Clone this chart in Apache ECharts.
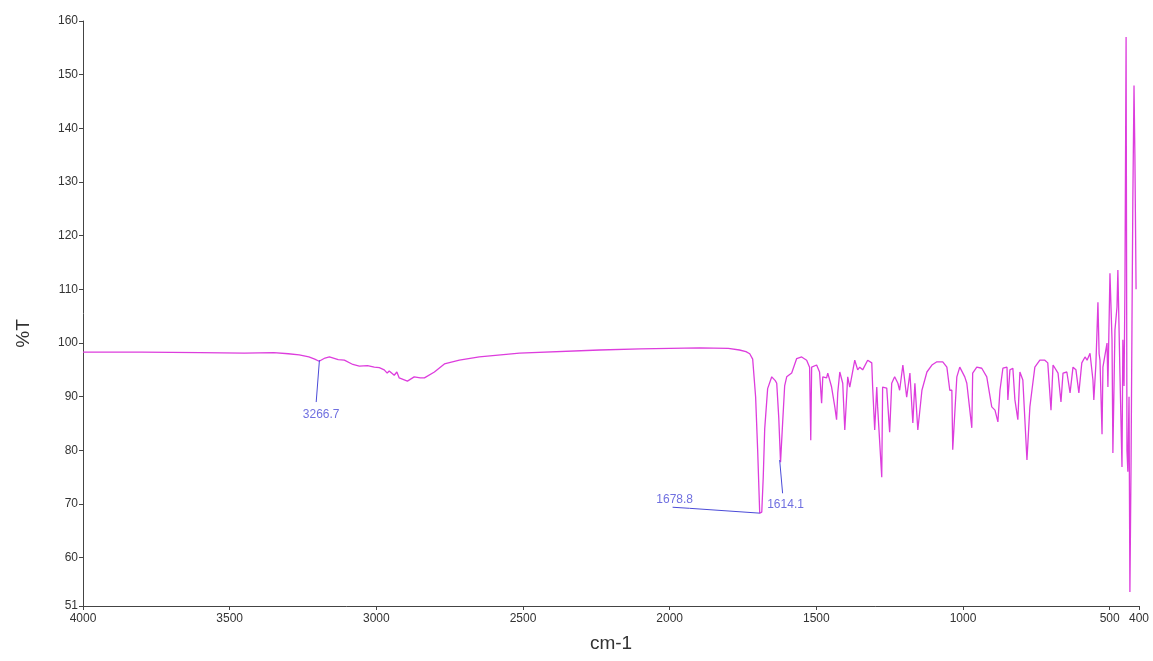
<!DOCTYPE html>
<html>
<head>
<meta charset="utf-8">
<script src="https://cdn.jsdelivr.net/npm/echarts@6/dist/echarts.min.js"></script>
<style>
html,body{margin:0;padding:0;background:#fff;}
#chart{width:1153px;height:661px;}
</style>
</head>
<body>
<div id="chart"></div>
<script>
// wavenumber (cm-1) and %T
const wavenumbers = [4000,3800,3600,3450,3350,3300,3263,3230,3210,3195,3175,3160,3130,3109,3080,3058,3030,3007,2990,2973,2963,2956,2939,2930,2922,2894,2871,2850,2836,2802,2768,2717,2649,2512,2239,2100,1898,1800,1762,1740,1727,1717,1707,1700,1693,1686,1681,1676,1666,1652,1640,1635,1628,1622,1615,1608,1601,1584,1567,1550,1533,1523,1519,1516,1499,1489,1482,1478,1465,1461,1448,1437,1431,1427,1420,1410,1403,1393,1386,1369,1359,1352,1342,1325,1311,1308,1301,1294,1291,1277,1274,1260,1250,1243,1233,1222,1216,1205,1192,1181,1171,1164,1154,1140,1123,1106,1089,1069,1055,1045,1038,1035,1021,1011,994,987,970,967,953,936,919,902,891,881,874,864,850,847,840,830,823,813,806,796,782,772,765,755,738,721,711,700,693,676,666,659,646,635,625,615,605,595,584,577,567,557,554,547,543,540,536,533,526,523,509,506,499,492,489,482,475,472,465,458,455,451,448,444,441,438,434,431,427,424,421,417,414,410];
const transmittance = [98.3,98.3,98.2,98.1,98.2,98.0,97.8,97.4,97.0,96.6,97.2,97.4,96.9,96.8,96.0,95.7,95.8,95.5,95.4,95.0,94.4,94.8,94.0,94.6,93.5,92.9,93.7,93.5,93.5,94.6,96.1,96.8,97.4,98.1,98.7,98.9,99.1,99.0,98.7,98.4,98.0,97.0,90.0,80.0,68.3,68.5,75.0,84.0,91.5,93.7,93.0,92.5,86.0,77.8,85.0,92.0,93.7,94.4,97.1,97.4,96.8,95.5,81.9,95.5,95.9,94.6,88.8,93.7,93.5,94.4,91.8,88.1,85.7,90.7,94.6,92.5,83.8,93.7,91.8,96.8,95.0,95.5,95.0,96.8,96.3,91.8,83.8,91.8,88.1,75.0,91.8,91.6,83.4,92.5,93.7,92.5,91.2,95.9,89.9,94.4,85.1,92.5,83.8,91.2,94.6,95.9,96.5,96.5,95.5,91.2,91.2,80.1,93.7,95.5,93.7,92.5,84.2,94.4,95.5,95.3,93.7,88.1,87.5,85.3,91.2,95.3,95.5,89.4,95.0,95.3,89.4,85.7,94.6,93.1,78.2,88.1,91.2,95.5,96.8,96.8,96.3,87.5,95.9,94.4,89.0,94.4,94.6,90.7,95.5,95.0,90.7,96.3,97.4,96.8,98.1,93.1,89.4,96.0,102.4,107.6,98.0,96.8,83.0,95.5,100.0,91.8,113.0,100.6,79.5,102.4,106.7,113.6,94.4,76.9,100.6,92.0,110.0,157.0,80.0,76.0,90.0,53.6,78.0,103.0,126.6,148.0,135.0,110.0];

const xTicks = [4000,3500,3000,2500,2000,1500,1000,500,400];
const yTicks = [51,60,70,80,90,100,110,120,130,140,150,160];

// peak annotations: label text, label position, leader line points
const peakLabels = ['3266.7','1678.8','1614.1'];
const peakLabelPos = [[3188,86.6],[1983,70.9],[1605,69.8]];
const peakLeaders = [
  [[3194,96.8],[3205,89.0]],
  [[1990,69.4],[1932,69.2],[1693,68.3]],
  [[1625,78.2],[1615,72.0]]
];

const spectrum = wavenumbers.map((w,i)=>[w,transmittance[i]]);
const annColor = '#4b4bd8';
const font = 'Liberation Sans, Arial, sans-serif';

const series = [{
  type:'line', data: spectrum, showSymbol:false, animation:false,
  lineStyle:{color:'#dd3ddd', width:1.3}, z:3
}];
peakLeaders.forEach(pts=>{
  series.push({type:'line', data:pts, showSymbol:false, animation:false, silent:true,
    lineStyle:{color:annColor,width:1}, z:4});
});
series.push({
  type:'scatter', symbolSize:0, animation:false, silent:true, z:5,
  data: peakLabels.map((t,i)=>({name:t, value:peakLabelPos[i]})),
  label:{show:true, position:'inside', formatter:p=>p.name, color:annColor, fontSize:12, fontFamily:font}
});

const chart = echarts.init(document.getElementById('chart'), null, {renderer:'canvas'});
chart.setOption({
  backgroundColor:'#fff',
  animation:false,
  grid:{left:83, right:14, top:21, bottom:55, outerBoundsMode:'none'},
  xAxis:{
    type:'value', inverse:true, min:400, max:4000,
    name:'cm-1', nameLocation:'middle', nameGap:28,
    nameTextStyle:{fontSize:19, color:'#333', fontFamily:font},
    axisLine:{show:true, lineStyle:{color:'#444', width:1}},
    axisTick:{show:true, length:4, customValues:xTicks, lineStyle:{color:'#444'}},
    axisLabel:{customValues:xTicks, formatter:v=>String(v), color:'#333', fontSize:12, fontFamily:font, margin:7},
    splitLine:{show:false}
  },
  yAxis:{
    type:'value', min:51, max:160,
    name:'%T', nameLocation:'middle', nameGap:50, nameRotate:90,
    nameTextStyle:{fontSize:19, color:'#333', fontFamily:font, padding:[0,40,0,0]},
    axisLine:{show:true, lineStyle:{color:'#444', width:1}},
    axisTick:{show:true, length:4, customValues:yTicks, lineStyle:{color:'#444'}},
    axisLabel:{customValues:yTicks, formatter:v=>String(v), color:'#333', fontSize:12, fontFamily:font, margin:5},
    splitLine:{show:false}
  },
  series: series
});
</script>
</body>
</html>
